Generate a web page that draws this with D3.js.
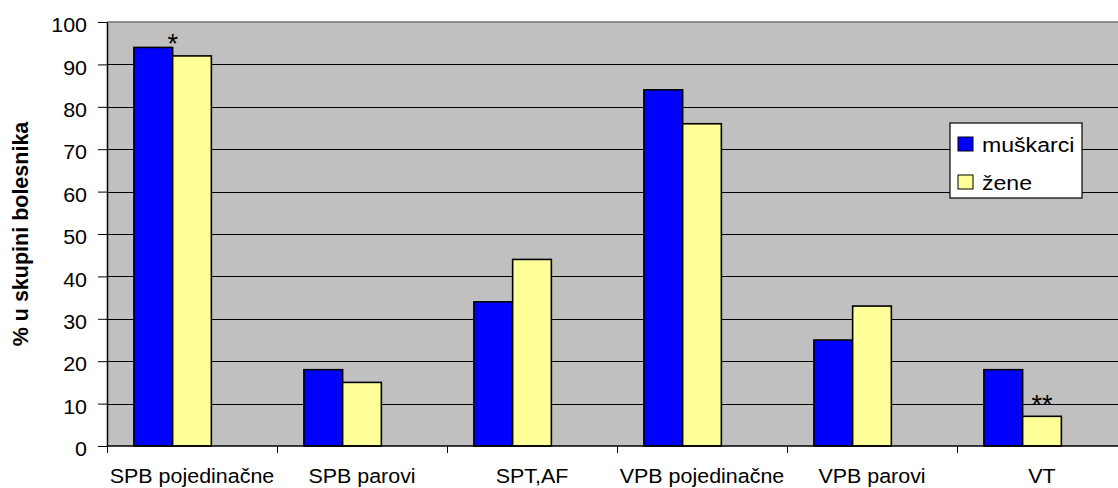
<!DOCTYPE html>
<html>
<head>
<meta charset="utf-8">
<script src="https://cdn.jsdelivr.net/npm/d3@7"></script>
<style>
  body { margin: 0; background: #fff; }
  text { font-family: Arial, "Liberation Sans", sans-serif; fill: #000; }
</style>
</head>
<body>
<div id="chart"></div>
<script>
// Chart data
const categories = ['SPB pojedinačne', 'SPB parovi', 'SPT,AF', 'VPB pojedinačne', 'VPB parovi', 'VT'];
const seriesNames = ['muškarci', 'žene'];
const muskarci = [94, 18, 34, 84, 25, 18];
const zene = [92, 15, 44, 76, 33, 7];
const yTicks = [0, 10, 20, 30, 40, 50, 60, 70, 80, 90, 100];
// significance marks: category index, series index, label
const marks = [
    { cat: 0, series: 1, text: '*', align: 'left' },
    { cat: 5, series: 1, text: '**', align: 'center' }
];

const colors = ['#0000ff', '#ffff99'];
const stretch = 1.1; // text in the original is slightly wide

const width = 1118, height = 488;
const margin = { top: 22, left: 107 };
const plotRight = 1127; // plot runs a little past the window edge
const plotBottom = 446;

const svg = d3.select('#chart')
    .append('svg')
    .attr('width', width)
    .attr('height', height);

const x0 = d3.scaleBand()
    .domain(categories)
    .range([margin.left, plotRight]);

// three slots per category, the third one empty (as in the original)
const x1 = d3.scaleBand()
    .domain([0, 1, 2])
    .range([0, x0.bandwidth()])
    .paddingOuter(0.695);

const y = d3.scaleLinear()
    .domain([0, 100])
    .range([plotBottom, margin.top]);

// plot background
svg.append('rect')
    .attr('x', margin.left)
    .attr('y', margin.top)
    .attr('width', plotRight - margin.left)
    .attr('height', plotBottom - margin.top)
    .attr('fill', '#c0c0c0');

// gridlines
svg.selectAll('.grid')
    .data(yTicks.filter(d => d > 0 && d < 100))
    .enter()
    .append('line')
    .attr('class', 'grid')
    .attr('x1', margin.left)
    .attr('x2', plotRight)
    .attr('y1', d => Math.round(y(d)) + 0.5)
    .attr('y2', d => Math.round(y(d)) + 0.5)
    .attr('stroke', '#000')
    .attr('stroke-width', 1);

// top border
svg.append('line')
    .attr('x1', margin.left)
    .attr('x2', plotRight)
    .attr('y1', y(100))
    .attr('y2', y(100))
    .attr('stroke', '#707070')
    .attr('stroke-width', 1.5);

// bars
const rows = categories.map((c, i) => ({ cat: c, values: [muskarci[i], zene[i]] }));
const groups = svg.selectAll('.cat')
    .data(rows)
    .enter()
    .append('g')
    .attr('class', 'cat')
    .attr('transform', d => `translate(${x0(d.cat)},0)`);

groups.selectAll('rect')
    .data(d => d.values.map((v, s) => ({ v, s })))
    .enter()
    .append('rect')
    .attr('x', d => x1(d.s))
    .attr('y', d => y(d.v))
    .attr('width', x1.bandwidth())
    .attr('height', d => y(0) - y(d.v))
    .attr('fill', d => colors[d.s])
    .attr('stroke', '#000')
    .attr('stroke-width', 1.6);

// significance asterisks
svg.selectAll('.mark')
    .data(marks)
    .enter()
    .append('text')
    .attr('class', 'mark')
    .attr('x', d => {
        const left = x0(categories[d.cat]) + x1(d.series);
        return d.align === 'center' ? left + x1.bandwidth() / 2 : left;
    })
    .attr('y', d => {
        const vals = d.series === 0 ? muskarci : zene;
        return y(vals[d.cat]) - 2.5;
    })
    .attr('text-anchor', 'middle')
    .style('font-size', '27px')
    .text(d => d.text);

// y axis
const yAxis = d3.axisLeft(y).tickValues(yTicks).tickSize(9).tickSizeOuter(0);
const gY = svg.append('g')
    .attr('transform', `translate(${margin.left},0)`)
    .call(yAxis);
gY.select('.domain').attr('stroke', '#000').attr('stroke-width', 1.5);
gY.selectAll('.tick line').attr('stroke', '#000');
gY.selectAll('.tick text')
    .attr('x', -20 / stretch)
    .attr('dy', '0.5em')
    .attr('transform', `scale(${stretch},1)`)
    .style('font-size', '19.5px')
    .style('font-family', 'Arial, "Liberation Sans", sans-serif');

// x axis: baseline, boundary ticks, centred labels
svg.append('line')
    .attr('x1', margin.left)
    .attr('x2', plotRight)
    .attr('y1', plotBottom)
    .attr('y2', plotBottom)
    .attr('stroke', '#000')
    .attr('stroke-width', 1.5);

svg.selectAll('.xtick')
    .data(categories)
    .enter()
    .append('line')
    .attr('class', 'xtick')
    .attr('x1', d => Math.round(x0(d)) + 0.5)
    .attr('x2', d => Math.round(x0(d)) + 0.5)
    .attr('y1', plotBottom)
    .attr('y2', plotBottom + 7)
    .attr('stroke', '#000');

const xAxis = d3.axisBottom(x0).tickSize(0);
const gX = svg.append('g')
    .attr('transform', `translate(0,${plotBottom})`)
    .call(xAxis);
gX.select('.domain').remove();
gX.selectAll('.tick text')
    .attr('y', 37)
    .attr('dy', 0)
    .attr('transform', `scale(${stretch},1)`)
    .style('font-size', '19.5px')
    .style('font-family', 'Arial, "Liberation Sans", sans-serif');

// y axis title
svg.append('text')
    .attr('transform', `translate(28,${(margin.top + plotBottom) / 2}) rotate(-90)`)
    .attr('text-anchor', 'middle')
    .style('font-size', '21.5px')
    .style('font-weight', 'bold')
    .text('% u skupini bolesnika');

// legend
const legend = svg.append('g').attr('transform', 'translate(950,123)');
legend.append('rect')
    .attr('width', 132)
    .attr('height', 75)
    .attr('fill', '#fff')
    .attr('stroke', '#000')
    .attr('stroke-width', 1.2);

const items = legend.selectAll('.item')
    .data(seriesNames)
    .enter()
    .append('g')
    .attr('class', 'item')
    .attr('transform', (d, i) => `translate(8,${14 + i * 38})`);

items.append('rect')
    .attr('width', 15)
    .attr('height', 14)
    .attr('fill', (d, i) => colors[i])
    .attr('stroke', '#000')
    .attr('stroke-width', 1);

items.append('text')
    .attr('x', 24 / stretch)
    .attr('y', 15)
    .attr('transform', `scale(${stretch},1)`)
    .style('font-size', '21px')
    .text(d => d);
</script>
</body>
</html>
